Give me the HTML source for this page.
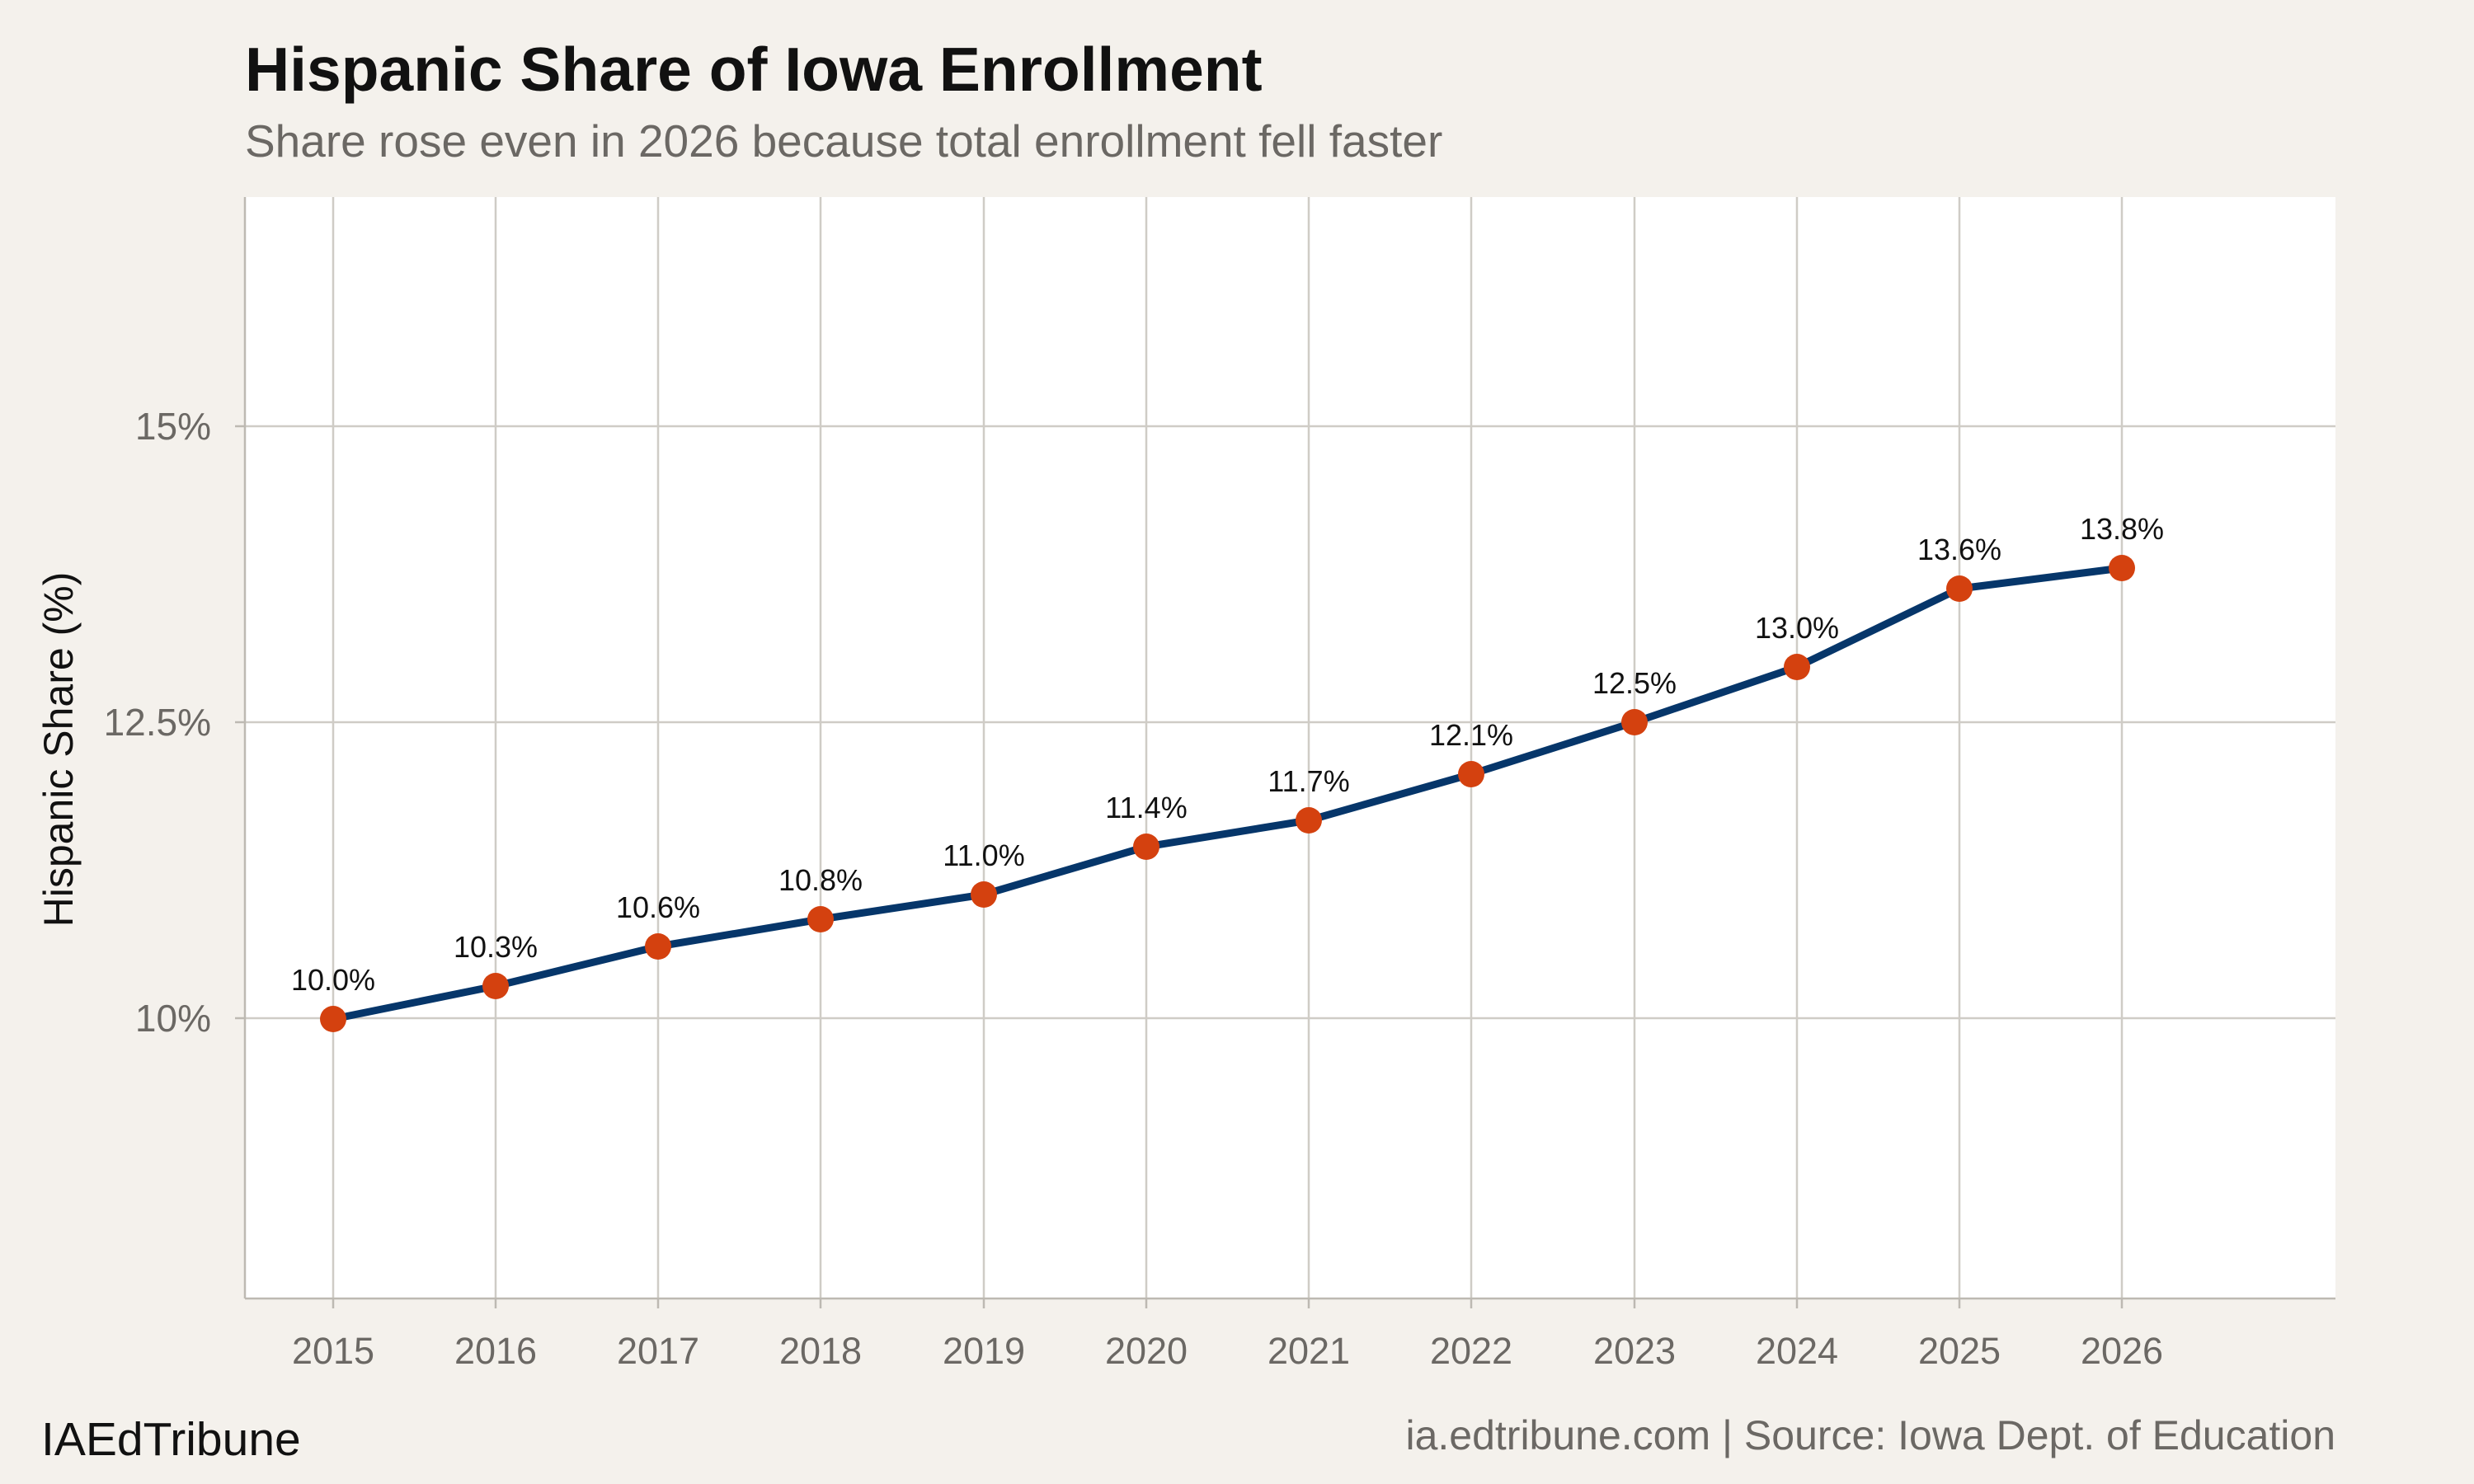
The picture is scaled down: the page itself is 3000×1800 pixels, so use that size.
<!DOCTYPE html>
<html><head><meta charset="utf-8"><style>
html,body{margin:0;padding:0;background:#f4f1ec;}
svg{display:block;font-family:"Liberation Sans",Arial,sans-serif;}
</style></head><body>
<svg width="3000" height="1800" viewBox="0 0 3000 1800" xmlns="http://www.w3.org/2000/svg">
<rect width="3000" height="1800" fill="#f4f1ec"/>
<rect x="297" y="239" width="2535" height="1336" fill="#ffffff"/>
<g stroke="#cfccc6" stroke-width="2.5">
<line x1="297" y1="517" x2="2832" y2="517"/>
<line x1="297" y1="876" x2="2832" y2="876"/>
<line x1="297" y1="1235" x2="2832" y2="1235"/>
<line x1="404" y1="239" x2="404" y2="1575"/>
<line x1="601" y1="239" x2="601" y2="1575"/>
<line x1="798" y1="239" x2="798" y2="1575"/>
<line x1="995" y1="239" x2="995" y2="1575"/>
<line x1="1193" y1="239" x2="1193" y2="1575"/>
<line x1="1390" y1="239" x2="1390" y2="1575"/>
<line x1="1587" y1="239" x2="1587" y2="1575"/>
<line x1="1784" y1="239" x2="1784" y2="1575"/>
<line x1="1982" y1="239" x2="1982" y2="1575"/>
<line x1="2179" y1="239" x2="2179" y2="1575"/>
<line x1="2376" y1="239" x2="2376" y2="1575"/>
<line x1="2573" y1="239" x2="2573" y2="1575"/>
</g>
<g stroke="#bdb9b2" stroke-width="2.5">
<line x1="297" y1="239" x2="297" y2="1575"/>
<line x1="297" y1="1575" x2="2832" y2="1575"/>
<line x1="404" y1="1575" x2="404" y2="1587"/><line x1="601" y1="1575" x2="601" y2="1587"/><line x1="798" y1="1575" x2="798" y2="1587"/><line x1="995" y1="1575" x2="995" y2="1587"/><line x1="1193" y1="1575" x2="1193" y2="1587"/><line x1="1390" y1="1575" x2="1390" y2="1587"/><line x1="1587" y1="1575" x2="1587" y2="1587"/><line x1="1784" y1="1575" x2="1784" y2="1587"/><line x1="1982" y1="1575" x2="1982" y2="1587"/><line x1="2179" y1="1575" x2="2179" y2="1587"/><line x1="2376" y1="1575" x2="2376" y2="1587"/><line x1="2573" y1="1575" x2="2573" y2="1587"/>
<line x1="285" y1="517" x2="297" y2="517"/><line x1="285" y1="876" x2="297" y2="876"/><line x1="285" y1="1235" x2="297" y2="1235"/>
</g>
<polyline fill="none" stroke="#06366a" stroke-width="9" stroke-linejoin="round" points="404,1236 601,1196 798,1148 995,1115 1193,1085 1390,1027 1587,995 1784,939 1982,876 2179,809 2376,714 2573,689"/>
<g fill="#d4410f">
<circle cx="404" cy="1236" r="16"/><circle cx="601" cy="1196" r="16"/><circle cx="798" cy="1148" r="16"/><circle cx="995" cy="1115" r="16"/><circle cx="1193" cy="1085" r="16"/><circle cx="1390" cy="1027" r="16"/><circle cx="1587" cy="995" r="16"/><circle cx="1784" cy="939" r="16"/><circle cx="1982" cy="876" r="16"/><circle cx="2179" cy="809" r="16"/><circle cx="2376" cy="714" r="16"/><circle cx="2573" cy="689" r="16"/>
</g>
<g font-size="36" fill="#111" text-anchor="middle">
<text x="404" y="1201">10.0%</text><text x="601" y="1161">10.3%</text><text x="798" y="1113">10.6%</text><text x="995" y="1080">10.8%</text><text x="1193" y="1050">11.0%</text><text x="1390" y="992">11.4%</text><text x="1587" y="960">11.7%</text><text x="1784" y="904">12.1%</text><text x="1982" y="841">12.5%</text><text x="2179" y="774">13.0%</text><text x="2376" y="679">13.6%</text><text x="2573" y="654">13.8%</text>
</g>
<g font-size="46" fill="#6b6864" text-anchor="end">
<text x="256" y="533">15%</text><text x="256" y="892">12.5%</text><text x="256" y="1251">10%</text>
</g>
<g font-size="45" fill="#6b6864" text-anchor="middle">
<text x="404" y="1654">2015</text><text x="601" y="1654">2016</text><text x="798" y="1654">2017</text><text x="995" y="1654">2018</text><text x="1193" y="1654">2019</text><text x="1390" y="1654">2020</text><text x="1587" y="1654">2021</text><text x="1784" y="1654">2022</text><text x="1982" y="1654">2023</text><text x="2179" y="1654">2024</text><text x="2376" y="1654">2025</text><text x="2573" y="1654">2026</text>
</g>
<text x="0" y="0" font-size="50" fill="#111" text-anchor="middle" transform="translate(88,909) rotate(-90)">Hispanic Share (%)</text>
<text x="297" y="110" font-size="75" font-weight="bold" fill="#111">Hispanic Share of Iowa Enrollment</text>
<text x="297" y="190" font-size="55" fill="#6b6864">Share rose even in 2026 because total enrollment fell faster</text>
<text x="50" y="1765" font-size="57" fill="#111">IAEdTribune</text>
<text x="2832" y="1758" font-size="50" fill="#6b6864" text-anchor="end">ia.edtribune.com | Source: Iowa Dept. of Education</text>
</svg>
</body></html>
